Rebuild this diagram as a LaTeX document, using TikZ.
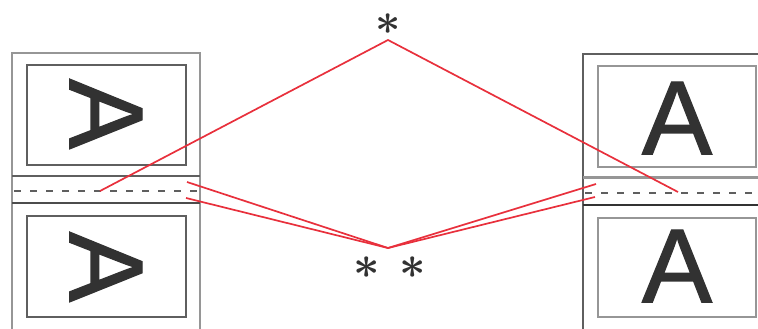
\documentclass[tikz,border=0pt]{standalone}
\usepackage{fontspec}
\setmainfont{Liberation Sans}
\newfontfamily\letterfont[FakeBold=1.2]{Liberation Sans}
\usepackage{tikz}
\usetikzlibrary{positioning,calc}
\definecolor{framegray}{RGB}{150,150,150}
\definecolor{boxgray}{RGB}{95,95,95}
\definecolor{lettergray}{RGB}{50,50,50}
\definecolor{marginred}{RGB}{232,48,60}

\begin{document}
\begin{tikzpicture}[
    x=1pt, y=-1pt,
    pageframe/.style={draw=framegray, line width=2pt},
    printbox/.style={draw=boxgray, line width=1.8pt},
    foldline/.style={draw=boxgray, line width=1.3pt, dash pattern=on 7pt off 9pt},
    letter/.style={inner sep=0pt, text=lettergray, font=\letterfont\fontsize{105}{105}\selectfont},
    star/.style={inner sep=0pt, text=lettergray, font=\boldmath},
    margin/.style={draw=marginred, line width=1.7pt, line join=round}
]
\useasboundingbox (0,0) rectangle (758,329);

% left page, turned
\draw[pageframe] (12,335) -- (12,53) -- (200,53) -- (200,335);
\draw[printbox] (27,65) rectangle (186,165);
\draw[printbox] (27,216) rectangle (186,317);
\draw[draw=boxgray, line width=1.6pt] (12,176) -- (200,176);
\draw[draw=boxgray!80!black, line width=1.6pt] (12,203) -- (200,203);
\draw[foldline] (14,191) -- (200,191);
\node[letter, rotate=-90] (la) at (106,114) {A};
\node[letter, rotate=-90] (lb) at (106,267) {A};

% right page
\draw[draw=boxgray, line width=2pt] (583,335) -- (583,54) -- (762,54);
\draw[printbox, draw=framegray] (598,66) rectangle (756,167);
\draw[printbox, draw=framegray] (598,218) rectangle (756,317);
\draw[draw=framegray, line width=3pt] (583,177) -- (762,177);
\draw[draw=lettergray, line width=1.6pt] (583,205) -- (762,205);
\draw[foldline] (585,193) -- (762,193);
\node[letter] (ra) at (677,118) {A};
\node[letter] (rb) at (677,266) {A};

% marks
\node[star] (top) at (388,24) {\scalebox{4.4}{$\ast$}};
\node[star] (bl) at (367,268) {\scalebox{4.6}{$\ast$}};
\node[star] (br) at (413,268) {\scalebox{4.6}{$\ast$}};

\coordinate (t) at (388,40);
\coordinate (tl) at (100,191);
\coordinate (tr) at (678,192);
\coordinate (b) at (388,248);
\coordinate (bl1) at (187,182);
\coordinate (bl2) at (186,198);
\coordinate (br1) at (596,184);
\coordinate (br2) at (595,197);

\draw[margin] (tl) -- (t) -- (tr);
\draw[margin] (bl1) -- (b) -- (br1);
\draw[margin] (bl2) -- (b) -- (br2);
\end{tikzpicture}
\end{document}
